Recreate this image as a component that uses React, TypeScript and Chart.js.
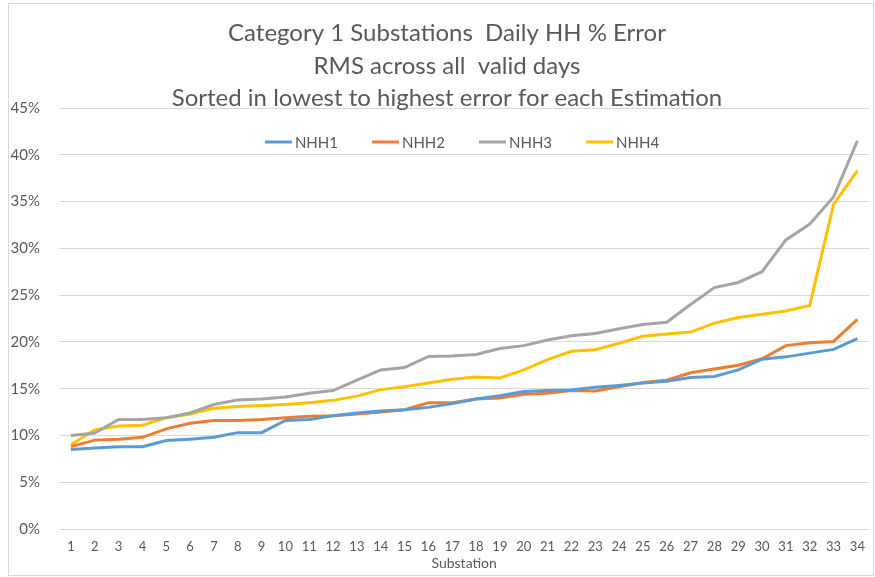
import { useEffect, useRef } from "react";
import { Chart, registerables } from "chart.js";

Chart.register(...registerables);

const substations = ["1","2","3","4","5","6","7","8","9","10","11","12","13","14","15","16","17","18","19","20","21","22","23","24","25","26","27","28","29","30","31","32","33","34"];

const nhh1 = [8.5, 8.65, 8.8, 8.8, 9.45, 9.6, 9.8, 10.3, 10.3, 11.6, 11.7, 12.1, 12.4, 12.6, 12.75, 13.0, 13.4, 13.9, 14.25, 14.7, 14.8, 14.85, 15.15, 15.35, 15.6, 15.8, 16.2, 16.3, 17.0, 18.15, 18.4, 18.8, 19.2, 20.35];
const nhh2 = [8.8, 9.5, 9.6, 9.8, 10.7, 11.3, 11.6, 11.6, 11.7, 11.9, 12.05, 12.1, 12.3, 12.5, 12.75, 13.5, 13.5, 13.9, 14.0, 14.4, 14.5, 14.8, 14.75, 15.2, 15.65, 15.9, 16.7, 17.1, 17.5, 18.2, 19.6, 19.9, 20.05, 22.4];
const nhh3 = [10.0, 10.25, 11.7, 11.7, 11.9, 12.4, 13.3, 13.8, 13.9, 14.1, 14.5, 14.8, 15.9, 17.0, 17.25, 18.45, 18.5, 18.65, 19.3, 19.6, 20.2, 20.65, 20.9, 21.4, 21.85, 22.1, 24.0, 25.8, 26.35, 27.5, 30.9, 32.6, 35.5, 41.5];
const nhh4 = [9.0, 10.6, 11.0, 11.1, 11.9, 12.3, 12.9, 13.1, 13.2, 13.3, 13.5, 13.75, 14.2, 14.9, 15.2, 15.6, 16.0, 16.25, 16.15, 17.0, 18.1, 19.0, 19.15, 19.85, 20.6, 20.85, 21.05, 22.0, 22.6, 22.95, 23.3, 23.9, 34.7, 38.3];

const seriesNames = ["NHH1", "NHH2", "NHH3", "NHH4"];
const seriesColors = ["#5B9BD5", "#ED7D31", "#A5A5A5", "#FFC000"];
const titleLines = [
  "Category 1 Substations  Daily HH % Error",
  "RMS across all  valid days",
  "Sorted in lowest to highest error for each Estimation",
];
const xAxisTitle = "Substation";
const yMin = 0;
const yMax = 45;
const yStep = 5;

const FONT = "Lato, 'Open Sans', sans-serif";
const TEXT = "#595959";

export default function App() {
  const ref = useRef<HTMLCanvasElement | null>(null);

  useEffect(() => {
    const canvas = ref.current;
    if (!canvas) return;
    const overlay = {
      id: "overlay",
      beforeDraw(chart: any) {
        const ctx = chart.ctx;
        ctx.save();
        ctx.fillStyle = "#ffffff";
        ctx.fillRect(0, 0, chart.width, chart.height);
        ctx.strokeStyle = "#d9d9d9";
        ctx.lineWidth = 1;
        ctx.strokeRect(8.5, 3.5, 865, 572);
        ctx.restore();
      },
      afterDraw(chart: any) {
        const ctx = chart.ctx;
        ctx.save();
        ctx.fillStyle = TEXT;
        ctx.textAlign = "center";
        ctx.textBaseline = "middle";
        ctx.font = `24px ${FONT}`;
        const ys = [33, 66, 98];
        titleLines.forEach((t, i) => ctx.fillText(t, 447, ys[i]));

        // legend
        ctx.font = `15px ${FONT}`;
        const lineLen = 27;
        const gap = 3;
        const itemGap = 34;
        const widths = chart.data.datasets.map((d: any) => lineLen + gap + ctx.measureText(d.label).width);
        const total = widths.reduce((a: number, b: number) => a + b, 0) + itemGap * (widths.length - 1);
        let x = 462 - total / 2;
        const y = 142;
        chart.data.datasets.forEach((d: any, i: number) => {
          ctx.strokeStyle = d.borderColor;
          ctx.lineWidth = 3;
          ctx.beginPath();
          ctx.moveTo(x, y);
          ctx.lineTo(x + lineLen, y);
          ctx.stroke();
          ctx.fillStyle = TEXT;
          ctx.textAlign = "left";
          ctx.fillText(d.label, x + lineLen + gap, y + 1);
          x += widths[i] + itemGap;
        });
        ctx.restore();
      },
    };

    const series = [nhh1, nhh2, nhh3, nhh4];
    const chart = new Chart(canvas, {
      type: "line",
      data: {
        labels: substations,
        datasets: series.map((s, i) => ({
          label: seriesNames[i],
          data: s,
          borderColor: seriesColors[i],
          backgroundColor: seriesColors[i],
          borderWidth: 3,
          pointRadius: 0,
          tension: 0,
          fill: false,
        })),
      },
      options: {
        responsive: false,
        animation: false,
        layout: { padding: { left: 8, top: 108, right: 4, bottom: 2 } },
        plugins: {
          legend: { display: false },
          title: { display: false },
          tooltip: { enabled: false },
        },
        scales: {
          x: {
            offset: true,
            grid: { display: false, drawTicks: false },
            border: { display: false },
            ticks: {
              color: TEXT,
              font: { family: FONT, size: 13 },
              padding: 10,
              maxRotation: 0,
              autoSkip: false,
            },
            title: {
              display: true,
              text: xAxisTitle,
              color: TEXT,
              font: { family: FONT, size: 14 },
              padding: { top: 0, bottom: 3 },
            },
            afterFit(scale: any) {
              scale.height = 46;
            },
          },
          y: {
            min: yMin,
            max: yMax,
            grid: { color: "#d9d9d9", lineWidth: 1, drawTicks: false },
            border: { display: false },
            ticks: {
              stepSize: yStep,
              color: TEXT,
              font: { family: FONT, size: 15 },
              padding: 19,
              callback: (v: any) => `${v}%`,
            },
            afterFit(scale: any) {
              scale.width = 51;
            },
          },
        },
      },
      plugins: [overlay],
    } as any);
    return () => chart.destroy();
  }, []);

  return (
    <div style={{ position: "fixed", left: 0, top: 0, width: 875, height: 577, background: "#fff" }}>
      <canvas ref={ref} width={875} height={577} style={{ display: "block", width: 875, height: 577 }} />
    </div>
  );
}
